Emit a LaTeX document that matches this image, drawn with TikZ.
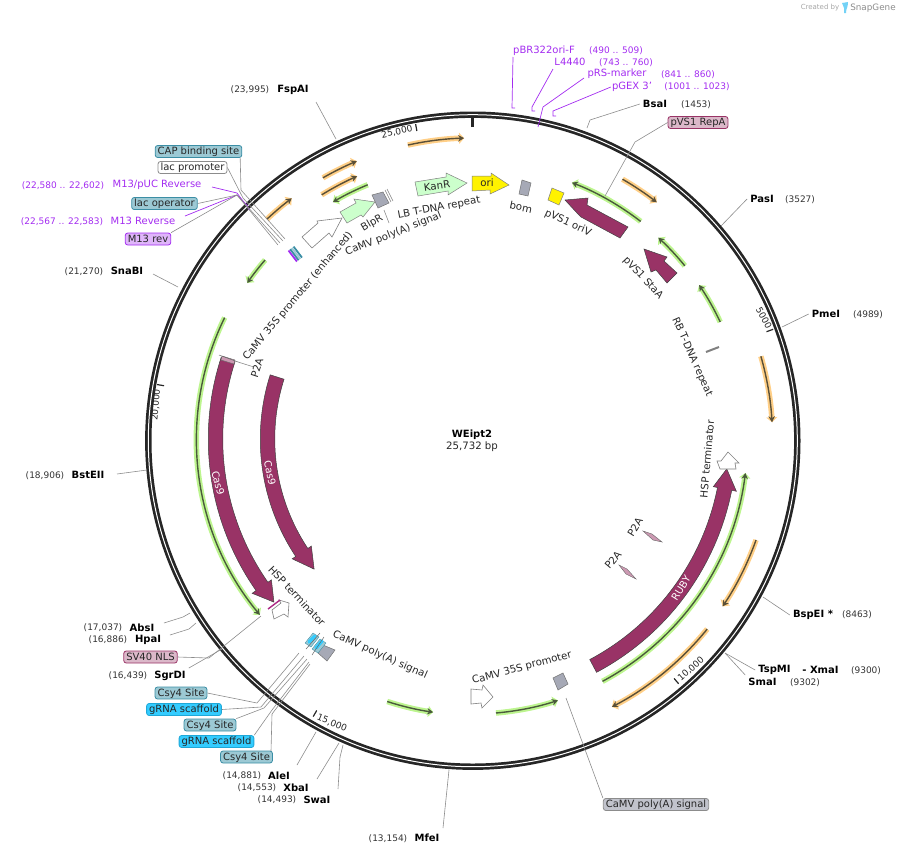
\documentclass[tikz,border=0pt]{standalone}
\usepackage{fontspec}
\setmainfont{DejaVu Sans}
\usetikzlibrary{arrows.meta}
\definecolor{cdscol}{HTML}{993366}
\definecolor{greycol}{HTML}{A6A9B6}
\definecolor{palegreen}{HTML}{CCFFCC}
\definecolor{primercol}{HTML}{A32CF0}
\definecolor{hlgreen}{HTML}{BDF58F}
\definecolor{hlorange}{HTML}{FFCF87}
\definecolor{darkgreen}{HTML}{4A5A3C}
\definecolor{darkorange}{HTML}{5A5038}
\definecolor{tealfill}{HTML}{9CC9D4}
\definecolor{tealedge}{HTML}{3B8EA5}
\definecolor{cyanfill}{HTML}{33CCFF}
\definecolor{cyanedge}{HTML}{1FA8D8}
\tikzset{
  backbone/.style={draw=black!85, line width=6.4pt},
  tickmark/.style={draw=black!85, line width=1.2pt},
  siteline/.style={draw=black!45, line width=.6pt},
  sitename/.style={font=\fontsize{10}{12}\selectfont\bfseries, inner sep=3pt},
  sitenum/.style={font=\fontsize{9}{11}\selectfont, text=black!80, inner sep=0pt},
  featlabel/.style={font=\fontsize{10.2}{12}\selectfont, text=black!85, inner sep=0pt},
  ticklabel/.style={font=\fontsize{9}{11}\selectfont, text=black!85, inner sep=0pt},
  cdstext/.style={font=\fontsize{10}{12}\selectfont, text=white, inner sep=0pt},
  primertext/.style={font=\fontsize{10}{12}\selectfont, text=primercol, inner sep=1pt},
  primerpos/.style={font=\fontsize{9}{11}\selectfont, text=primercol, inner sep=0pt},
  primerline/.style={draw=primercol, line width=.7pt},
  tagbox/.style={font=\fontsize{10}{12}\selectfont, text=black!85, rounded corners=2.5pt, line width=.8pt,
    inner xsep=2.5pt, inner ysep=0pt, minimum height=12pt, text height=8pt, text depth=2pt},
  tealbox/.style={tagbox, fill=tealfill, draw=tealedge},
  whitebox/.style={tagbox, fill=white, draw=black!45},
  purplebox/.style={tagbox, fill=primercol!35, draw=primercol},
  pinkbox/.style={tagbox, fill=cdscol!35, draw=cdscol},
  cyanbox/.style={tagbox, fill=cyanfill, draw=cyanedge},
  greybox/.style={tagbox, fill=greycol!70, draw=black!45},
  cdsarrow/.style={fill=cdscol, draw=black!75, line width=.5pt},
  orfgreen/.style={draw=darkgreen, line width=1.4pt, -{Stealth[length=6pt,width=6.5pt]},
    preaction={draw=hlgreen, line width=5.5pt, -{Triangle[length=5pt,width=11pt]}}},
  orforange/.style={draw=darkorange, line width=1.4pt, -{Stealth[length=6pt,width=6.5pt]},
    preaction={draw=hlorange, line width=5.5pt, -{Triangle[length=5pt,width=11pt]}}},
  greyblock/.style={fill=greycol, draw=black!55, line width=.5pt},
  greenblock/.style={fill=palegreen, draw=black!50, line width=.5pt},
  whiteblock/.style={fill=white, draw=black!50, line width=.6pt},
}
\begin{document}
\begin{tikzpicture}[x=1pt, y=-1pt]
  \useasboundingbox (0,0) rectangle (899,855);
  \coordinate (ctr) at (472.5,439);
  \coordinate (ringctr) at (472.8,440.7);

  % Backbone and ticks
  \draw[backbone] (ringctr) ellipse (324.5 and 326);
  \draw[white, line width=1pt] (ringctr) ellipse (324.5 and 326);
  \begin{scope}[shift={(ctr)}]
    \draw[draw=black!85, line width=2.5pt] (-90:312) -- (-90:323);
    \draw[tickmark] (-20.05:313) -- (-20.05:320);
    \draw[tickmark] (49.9:313) -- (49.9:320);
    \draw[tickmark] (119.85:313) -- (119.85:320);
    \draw[tickmark] (189.8:313) -- (189.8:320);
    \draw[tickmark] (259.76:313) -- (259.76:320);

    % Open reading frames
    \draw[orforange] (-102.4:301) arc (-102.4:-91.6:301);
    \draw[orfgreen] (-52.3:275) arc (-52.3:-68.8:275);
    \draw[orforange] (-60:300) arc (-60:-52.1:300);
    \draw[orfgreen] (-39.2:274) arc (-39.2:-47.3:274);
    \draw[orfgreen] (-25.3:274) arc (-25.3:-34.2:274);
    \draw[orforange] (-16:300) arc (-16:-3.2:300);
    \draw[orforange] (19.6:301) arc (19.6:33.8:301);
    \draw[orfgreen] (61.8:275) arc (61.8:7.1:275);
    \draw[orforange] (39:302) arc (39:62.5:302);
    \draw[orfgreen] (85.1:275) arc (85.1:71.9:275);
    \draw[orfgreen] (108:276) arc (108:98.2:276);
    \draw[orfgreen] (206.1:276) arc (206.1:140.4:276);
    \draw[orfgreen] (220.8:274) arc (220.8:214.7:274);
    \draw[orforange] (226.9:301) arc (226.9:233.1:301);
    \draw[orforange] (240.2:301) arc (240.2:247.4:301);
    \draw[orforange] (238.3:287) arc (238.3:246.3:287);
    \draw[orfgreen] (247.6:275) arc (247.6:239.5:275);

    % Big coding arrows
    \filldraw[cdsarrow] (198:249.75) arc (198:145:249.75) -- (145:245.5) -- (140.6:257)
      -- (145:269) -- (145:264.25) arc (145:198:264.25) -- cycle;
    \filldraw[cdsarrow] (197.6:197.75) arc (197.6:146.4:197.75) -- (146.4:193.5) -- (140.6:205)
      -- (146.4:216.5) -- (146.4:212.25) arc (146.4:197.6:212.25) -- cycle;
    \filldraw[cdsarrow] (62:249.75) arc (62:11.2:249.75) -- (11.2:245.5) -- (6.7:256)
      -- (11.2:269) -- (11.2:264.25) arc (11.2:62:264.25) -- cycle;
  \end{scope}
  \filldraw[cdsarrow] (565,200) -- (588,198) -- (587,205) -- (628,227) -- (620,238) -- (581,217) -- (578,214) -- cycle;
  \filldraw[cdsarrow] (644,249) -- (667,257) -- (664,261) -- (677,273) -- (667,283) -- (656,270) -- (651,272) -- cycle;

  % Small blocks
  \filldraw[greenblock] (415,182) -- (446,177) -- (446,173) -- (467,183) -- (448,195) -- (448,191) -- (418,196) -- cycle;
  \filldraw[fill=yellow, draw=black!50, line width=.5pt] (472,176) -- (491,176) -- (491,173) -- (509,185) -- (490,194) -- (490,190) -- (472,191) -- cycle;
  \filldraw[greyblock] (522,180) -- (531,183) -- (528,196) -- (519,194) -- cycle;
  \filldraw[fill=yellow, draw=black!50, line width=.5pt] (552,188) -- (564,193) -- (559,205) -- (548,200) -- cycle;
  \filldraw[greenblock] (340,212) -- (356,203) -- (354,199) -- (375,202) -- (363,217) -- (361,215) -- (347,223) -- cycle;
  \filldraw[greyblock] (372,195) -- (383,192) -- (389,203) -- (378,208) -- cycle;
  \draw[black!50, line width=.5pt] (385,190) -- (391,202);
  \draw[black!50, line width=.5pt] (387,189) -- (393,201);
  \filldraw[whiteblock] (302,237) -- (318,223) -- (317,221) -- (342,218) -- (332,237) -- (329,233) -- (312,248) -- cycle;
  \filldraw[whiteblock] (471,689) -- (482,690) -- (483,685) -- (493,697) -- (482,708) -- (481,703) -- (471,704) -- cycle;
  \filldraw[greyblock] (553,678) -- (563,673) -- (568,684) -- (558,690) -- cycle;
  \filldraw[whiteblock] (728,452) -- (739,463) -- (735,463) -- (736,469) -- (720,469) -- (717,461) -- (721,461) -- cycle;
  \filldraw[whiteblock] (272,610) -- (281,603) -- (279,600) -- (289,603) -- (288,617) -- (284,614) -- (274,619) -- cycle;
  \draw[cdscol!80!magenta, line width=1.4pt] (268,609) -- (280,600);
  \draw[gray, line width=2pt] (706,352) -- (719,347);

  % P2A pieces
  \filldraw[fill=cdscol!50, draw=black!60, line width=.4pt] (222,356) -- (235,360) -- (234,364) -- (221,360) -- cycle;
  \draw[black!60, line width=.5pt] (219,355) -- (238,362);
  \filldraw[fill=cdscol!50, draw=black!60, line width=.4pt] (643,531) -- (652,534) -- (662,542) -- (653,540) -- cycle;
  \filldraw[fill=cdscol!50, draw=black!60, line width=.4pt] (619,565) -- (627,569) -- (636,579) -- (626,574) -- cycle;

  % Stripes near the lac region
  \draw[tealedge, line width=1.8pt] (293.6,246.6) -- (302,257.6);
  \draw[tealfill, line width=1.8pt] (291.9,247.9) -- (300.3,258.9);
  \draw[tealedge, line width=1.8pt] (290.2,249.2) -- (298.6,260.2);
  \draw[primercol, line width=1.8pt] (288.5,250.5) -- (296.9,261.5);

  % Csy4 block
  \filldraw[greyblock] (323,645) -- (335,650) -- (327,661) -- (318,653) -- cycle;
  \filldraw[fill=tealfill, draw=tealedge, line width=.3pt] (305,643) -- (313,633) -- (319,637) -- (311,647) -- cycle;
  \filldraw[fill=tealfill, draw=tealedge, line width=.3pt] (312,649) -- (320,639) -- (326,643) -- (318,653) -- cycle;
  \draw[cyanfill, line width=3.5pt, line cap=round] (309,642) -- (315,636);
  \draw[cyanfill, line width=3.5pt, line cap=round] (316,648) -- (322,641);
  \draw[black!60, line width=.5pt] (306,649) -- (320,633);
  \draw[black!60, line width=.5pt] (312,655) -- (324,637);

  % Center title
  \node[font=\fontsize{10}{12}\selectfont\bfseries, inner sep=0pt] (title) at (472,435) {WEipt2};
  \node[featlabel] (size) at (472,447) {25,732 bp};

  % Tick labels
  \node[ticklabel, rotate=12] (tick25) at (397,132) {25,000};
  \node[ticklabel, rotate=-62] (tick5) at (764,318) {5000};
  \node[ticklabel, rotate=42] (tick10) at (691,669) {10,000};
  \node[ticklabel, rotate=-22] (tick15) at (332,723) {15,000};
  \node[ticklabel, rotate=85] (tick20) at (156,405) {20,000};

  % Feature labels
  \node[featlabel, rotate=50] (camvenh) at (298,296) {CaMV 35S promoter (enhanced)};
  \node[featlabel, rotate=72] (p2atop) at (257,368) {P2A};
  \node[featlabel, rotate=30] (blpr) at (372,223) {BlpR};
  \node[featlabel, rotate=10.5] (lbrepeat) at (439,208) {LB T-DNA repeat};
  \node[featlabel, rotate=21.6] (camvpoly) at (393.5,234) {CaMV poly(A) signal};
  \node[featlabel, rotate=8] (kanr) at (437,186) {KanR};
  \node[featlabel] (ori) at (487,183) {ori};
  \node[featlabel, rotate=-12] (bom) at (521,207) {bom};
  \node[featlabel, rotate=-25] (orivtext) at (568,223) {pVS1 oriV};
  \node[featlabel, rotate=-47] (statext) at (643,278) {pVS1 StaA};
  \node[featlabel, rotate=-66] (rbrepeat) at (692,357) {RB T-DNA repeat};
  \node[featlabel, rotate=85] (hspright) at (707,459) {HSP terminator};
  \node[featlabel, rotate=58] (p2aone) at (635,527) {P2A};
  \node[featlabel, rotate=50] (p2atwo) at (613,560) {P2A};
  \node[featlabel, rotate=15] (camv35s) at (522,668) {CaMV 35S promoter};
  \node[featlabel, rotate=-24] (camvlow) at (380,655) {CaMV poly(A) signal};
  \node[featlabel, rotate=-47] (hspleft) at (297,596) {HSP terminator};
  \node[cdstext, rotate=58] (rubytext) at (681,588) {RUBY};
  \node[cdstext, rotate=-75] (casone) at (218,483) {Cas9};
  \node[cdstext, rotate=-78] (castwo) at (270,473) {Cas9};
  \coordinate (p2acut) at (238,362);
  \draw[siteline] (p2atop.north) -- (p2acut);
  \coordinate (lbtop) at (384,210);
  \coordinate (lbbot) at (389,223);
  \draw[siteline] (lbtop) -- (lbbot);

  % Restriction sites
  \node[sitenum] (fspainum) at (250,90) {(23,995)};
  \node[sitename] (fspai) at (293,90) {FspAI};
  \coordinate (fspaicut) at (336,139);
  \draw[siteline] (316,102) -- (fspaicut);
  \node[sitename] (bsai) at (655,104) {BsaI};
  \node[sitenum] (bsainum) at (696,105) {(1453)};
  \coordinate (bsaicut) at (587,128);
  \draw[siteline] (bsai.west) -- (590,120) -- (bsaicut);
  \node[sitename] (pasi) at (762,199) {PasI};
  \node[sitenum] (pasinum) at (800,200) {(3527)};
  \coordinate (pasicut) at (721,226);
  \draw[siteline] (pasi.west) -- (pasicut);
  \node[sitename] (pmei) at (826,314) {PmeI};
  \node[sitenum] (pmeinum) at (868,315) {(4989)};
  \coordinate (pmeicut) at (782,327);
  \draw[siteline] (pmei.west) -- (pmeicut);
  \node[sitename] (bspei) at (813,615) {BspEI *};
  \node[sitenum] (bspeinum) at (857,615) {(8463)};
  \coordinate (bspeicut) at (763,597);
  \draw[siteline] (bspei.west) -- (bspeicut);
  \node[sitename] (tspmi) at (774.5,670) {TspMI};
  \node[sitename] (xmai) at (820.5,670) {- XmaI};
  \node[sitenum] (xmainum) at (866,671) {(9300)};
  \coordinate (tspcut) at (725,653);
  \draw[siteline] (tspmi.west) -- (tspcut);
  \node[sitename] (smai) at (762.5,682) {SmaI};
  \node[sitenum] (smainum) at (805,683) {(9302)};
  \draw[siteline] (smai.north west) -- (tspcut);
  \node[sitenum] (mfeinum) at (388,839) {(13,154)};
  \node[sitename] (mfei) at (427,838) {MfeI};
  \coordinate (mfeicut) at (449,770);
  \draw[siteline] (443,828) -- (mfeicut);
  \node[sitenum] (swainum) at (277,800) {(14,493)};
  \node[sitename] (swai) at (317,800) {SwaI};
  \coordinate (swaicut) at (343,745);
  \draw[siteline] (338,789) -- (340,757) -- (swaicut);
  \node[sitenum] (xbainum) at (257,788) {(14,553)};
  \node[sitename] (xbai) at (296,788) {XbaI};
  \coordinate (xbaicut) at (339,743);
  \draw[siteline] (317,779) -- (xbaicut);
  \node[sitenum] (aleinum) at (242,776) {(14,881)};
  \node[sitename] (alei) at (279,776) {AleI};
  \coordinate (aleicut) at (316,732);
  \draw[siteline] (297,765) -- (aleicut);
  \node[sitenum] (sgrdinum) at (128,676) {(16,439)};
  \node[sitename] (sgrdi) at (170,676) {SgrDI};
  \coordinate (sgrdicut) at (222,649);
  \draw[siteline] (sgrdi.north east) -- (sgrdicut);
  \node[sitenum] (hpainum) at (108,640) {(16,886)};
  \node[sitename] (hpai) at (148,640) {HpaI};
  \coordinate (hpaicut) at (196,623);
  \draw[siteline] (170,635) -- (189,629) -- (hpaicut);
  \node[sitenum] (absinum) at (103,628) {(17,037)};
  \node[sitename] (absi) at (142,628) {AbsI};
  \coordinate (absicut) at (190,613);
  \draw[siteline] (164,623) -- (183,617) -- (absicut);
  \node[sitenum] (bstnum) at (45,476) {(18,906)};
  \node[sitename] (bsteii) at (88,475) {BstEII};
  \coordinate (bstcut) at (147,470);
  \draw[siteline] (117,474) -- (bstcut);
  \node[sitenum] (snanum) at (84,272) {(21,270)};
  \node[sitename] (snabi) at (127,271) {SnaBI};
  \coordinate (snacut) at (178,287);
  \draw[siteline] (153,274) -- (snacut);

  % Primers
  \node[primertext] (pbrori) at (544,51) {pBR322ori-F};
  \node[primerpos] (pbrpos) at (616,51) {(490 .. 509)};
  \node[primertext] (lfour) at (570,62) {L4440};
  \node[primerpos] (lfourpos) at (626,63) {(743 .. 760)};
  \node[primertext] (prs) at (617,74) {pRS-marker};
  \node[primerpos] (prspos) at (688,75) {(841 .. 860)};
  \node[primertext] (pgex) at (632,87) {pGEX 3'};
  \node[primerpos] (pgexpos) at (697,87) {(1001 .. 1023)};
  \coordinate (pbrend) at (515,108);
  \coordinate (lfourend) at (535,111);
  \coordinate (prsend) at (538,127);
  \coordinate (pgexend) at (556,116);
  \draw[primerline] (513,57) -- (512,108) -- (pbrend);
  \draw[primerline] (553,69) -- (532,107) -- (532,111) -- (lfourend);
  \draw[primerline] (584,78) -- (543,107) -- (prsend);
  \draw[primerline] (pgex.west) -- (553,111) -- (553,116) -- (pgexend);
  \node[primertext] (mpuc) at (157,185) {M13/pUC Reverse};
  \node[primerpos] (mpucpos) at (63,186) {(22,580 .. 22,602)};
  \node[primertext] (mrev) at (143,221) {M13 Reverse};
  \node[primerpos] (mrevpos) at (62,222) {(22,567 .. 22,583)};
  \coordinate (lacjoin) at (237,195);
  \coordinate (mpucend) at (249,209);
  \draw[primerline] (212,187) -- (237,193) -- (mpucend);
  \draw[primerline] (185,216) -- (lacjoin) -- (248,206);
  \fill[primercol] (mpucend) circle (1.2);

  % Labelled boxes with their connectors
  \node[tealbox] (capsite) at (198.5,151.5) {CAP binding site};
  \node[whitebox] (lacprom) at (192.5,167.5) {lac promoter};
  \node[tealbox] (lacop) at (164.5,203.5) {lac operator};
  \node[purplebox] (mrevbox) at (148,239) {M13 rev};
  \coordinate (capend) at (285,239);
  \coordinate (lacpromend) at (283,241);
  \coordinate (lacopend) at (280,243);
  \coordinate (mrevend) at (278,245);
  \draw[siteline] (capsite.south east) ++(-2,0) -- (241,190) -- (capend);
  \draw[siteline] (lacprom.east) -- (243,198) -- (lacpromend);
  \draw[siteline] (lacop.east) -- (lacjoin) -- (lacopend);
  \draw[siteline] (mrevbox.north east) -- (lacjoin) -- (mrevend);
  \node[pinkbox] (repa) at (698,122.5) {pVS1 RepA};
  \coordinate (repaend) at (605,196);
  \draw[siteline] (repa.west) -- (635,142) -- (repaend);
  \node[pinkbox] (svnls) at (150.5,657) {SV40 NLS};
  \coordinate (svend) at (261,616);
  \draw[siteline] (svnls.east) -- (209,658) -- (svend);
  \node[tealbox] (csyone) at (181,693) {Csy4 Site};
  \node[cyanbox] (grnaone) at (184,709.5) {gRNA scaffold};
  \node[tealbox] (csytwo) at (210,725) {Csy4 Site};
  \node[cyanbox] (grnatwo) at (216.5,741.5) {gRNA scaffold};
  \node[tealbox] (csythree) at (246.5,757) {Csy4 Site};
  \coordinate (csyoneend) at (299,653);
  \coordinate (grnaoneend) at (304,656);
  \coordinate (csytwoend) at (307,659);
  \coordinate (grnatwoend) at (309,662);
  \coordinate (csythreeend) at (310,664);
  \draw[siteline] (csyone.east) -- (257,703) -- (csyoneend);
  \draw[siteline] (grnaone.east) -- (261,707) -- (grnaoneend);
  \draw[siteline] (csytwo.north east) -- (264,708) -- (csytwoend);
  \draw[siteline] (grnatwo.north east) -- (272,710) -- (grnatwoend);
  \draw[siteline] (271,751) -- (272,714) -- (csythreeend);
  \node[greybox] (camvbox) at (656,804.5) {CaMV poly(A) signal};
  \coordinate (camvend) at (566,698);
  \draw[siteline] (camvbox.north west) -- (camvend);

  % Corner credit
  \node[font=\fontsize{7}{8}\selectfont, text=black!35, inner sep=0pt] (credit) at (820,8) {Created by};
  \fill[cyan!55] (842,3) -- (848,2) .. controls (848,8) and (846,8) .. (846,13) -- (844,13) -- (844,8) -- cycle;
  \node[font=\fontsize{8.8}{10}\selectfont, text=black!45, inner sep=0pt] (snapgene) at (873,8) {SnapGene};
\end{tikzpicture}
\end{document}
